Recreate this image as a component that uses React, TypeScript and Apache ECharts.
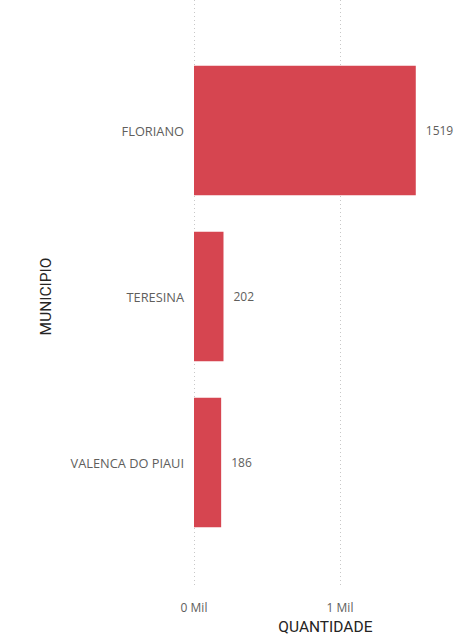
import { useEffect, useRef } from 'react';
import * as echarts from 'echarts';

const municipios = ['FLORIANO', 'TERESINA', 'VALENCA DO PIAUI'];
const quantidades = [1519, 202, 186];
const tickLabels: Record<number, string> = { 0: '0 Mil', 1000: '1 Mil' };

const BAR_COLOR = '#D64550';
const LABEL_COLOR = '#605E5C';
const TITLE_COLOR = '#252423';

export default function App() {
  const ref = useRef<HTMLDivElement>(null);

  useEffect(() => {
    if (!ref.current) return;
    const chart = echarts.init(ref.current, undefined, { renderer: 'svg' });

    chart.setOption({
      animation: false,
      grid: [
        // bars
        { left: 194, width: 262.8, top: 47.5, bottom: 94.5 },
        // axis frame with gridlines, labels and axis title
        { left: 194, width: 262.8, top: 0, bottom: 40 },
      ],
      xAxis: [
        { gridIndex: 0, type: 'value', min: 0, max: 1800, show: false },
        {
          gridIndex: 1,
          type: 'value',
          min: 0,
          max: 1800,
          interval: 1000,
          name: 'QUANTIDADE',
          nameLocation: 'middle',
          nameGap: 34,
          nameTextStyle: { color: TITLE_COLOR, fontFamily: 'Roboto', fontSize: 15.5 },
          axisLine: { show: false },
          axisTick: { show: false },
          axisLabel: {
            color: LABEL_COLOR,
            fontFamily: 'Open Sans',
            fontSize: 12,
            margin: 16,
            showMaxLabel: false,
            formatter: (v: number) => tickLabels[v] ?? '',
          },
          splitLine: {
            showMaxLine: false,
            lineStyle: { color: '#C8C8C8', type: [1, 3], width: 1 },
          },
        },
      ],
      yAxis: [
        {
          gridIndex: 0,
          type: 'category',
          inverse: true,
          data: municipios,
          name: 'MUNICIPIO',
          nameLocation: 'middle',
          nameRotate: 90,
          nameGap: 140,
          nameTextStyle: { color: TITLE_COLOR, fontFamily: 'Roboto', fontSize: 15.5 },
          axisLine: { show: false },
          axisTick: { show: false },
          axisLabel: {
            color: LABEL_COLOR,
            fontFamily: 'Open Sans',
            fontSize: 12.8,
            margin: 10,
            padding: [6, 0, 0, 0],
          },
        },
        { gridIndex: 1, type: 'value', min: 0, max: 1, show: false },
      ],
      series: [
        {
          type: 'bar',
          xAxisIndex: 0,
          yAxisIndex: 0,
          data: quantidades,
          barCategoryGap: '22%',
          itemStyle: { color: BAR_COLOR },
          label: {
            show: true,
            position: 'right',
            distance: 10,
            color: LABEL_COLOR,
            fontFamily: 'Open Sans',
            fontSize: 12,
          },
        },
      ],
    });

    return () => chart.dispose();
  }, []);

  return (
    <div
      ref={ref}
      style={{ position: 'fixed', left: 0, top: 0, width: 466, height: 640, background: '#fff' }}
    />
  );
}
